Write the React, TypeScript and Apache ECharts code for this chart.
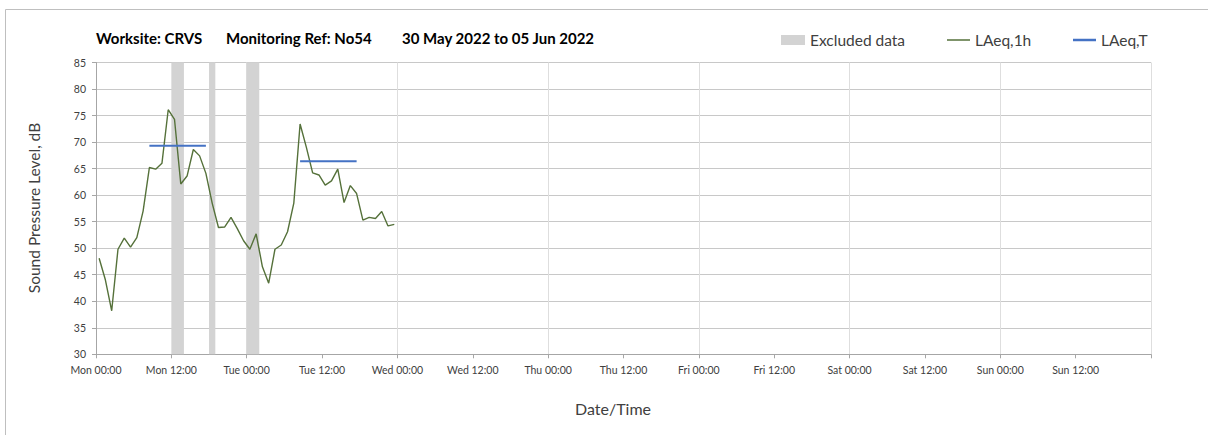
import React, { useEffect, useRef } from "react";
import * as echarts from "echarts";

const dayNames = ["Mon", "Tue", "Wed", "Thu", "Fri", "Sat", "Sun"];

const hourStamps = [
  0.5, 1.5, 2.5, 3.5, 4.5, 5.5, 6.5, 7.5, 8.5, 9.5, 10.5, 11.5,
  12.5, 13.5, 14.5, 15.5, 16.5, 17.5, 18.5, 19.5, 20.5, 21.5, 22.5, 23.5,
  24.5, 25.5, 26.5, 27.5, 28.5, 29.5, 30.5, 31.5, 32.5, 33.5, 34.5, 35.5,
  36.5, 37.5, 38.5, 39.5, 40.5, 41.5, 42.5, 43.5, 44.5, 45.5, 46.5, 47.5,
];

const laeq1h = [
  48.1, 44.0, 38.2, 49.8, 51.9, 50.2, 52.0, 57.0, 65.2, 64.9, 66.0, 76.1,
  74.3, 62.1, 63.6, 68.6, 67.4, 64.1, 58.5, 53.9, 54.0, 55.8, 53.7, 51.4,
  49.8, 52.7, 46.5, 43.4, 49.8, 50.6, 53.1, 58.5, 73.4, 69.0, 64.2, 63.8,
  61.9, 62.7, 64.9, 58.6, 61.8, 60.3, 55.3, 55.8, 55.6, 56.9, 54.2, 54.5,
];

const laeqTStart = [8.5, 32.5];
const laeqTEnd = [17.5, 41.5];
const laeqTValue = [69.3, 66.4];

const excludedStart = [12, 18, 24];
const excludedEnd = [14, 19, 26];

const titleParts = ["Worksite: CRVS", "Monitoring Ref: No54", "30 May 2022 to 05 Jun 2022"];

const FONT = "Lato, 'Open Sans', sans-serif";

export default function App() {
  const ref = useRef<HTMLDivElement>(null);
  useEffect(() => {
    if (!ref.current) return;
    const chart = echarts.init(ref.current, undefined, { renderer: "svg" });
    const lineData = hourStamps.map((h, i) => [h, laeq1h[i]]);
    const tSeries = laeqTStart.map((s, i) => ({
      name: "LAeq,T",
      type: "line",
      xAxisIndex: 0,
      symbol: "none",
      lineStyle: { color: "#4472c4", width: 2 },
      itemStyle: { color: "#4472c4" },
      data: [
        [s, laeqTValue[i]],
        [laeqTEnd[i], laeqTValue[i]],
      ],
      z: 4,
    }));
    const legendText = { fontSize: 15.5, color: "#404040", fontFamily: FONT };
    const option: any = {
      animation: false,
      backgroundColor: "#ffffff",
      textStyle: { fontFamily: FONT },
      grid: { left: 96, right: 57, top: 62.5, bottom: 80.7, containLabel: false },
      legend: [
        {
          data: [{ name: "Excluded data", icon: "rect" }],
          left: 776,
          top: 27,
          itemWidth: 24,
          itemHeight: 10,
          selectedMode: false,
          textStyle: legendText,
        },
        {
          data: [{ name: "LAeq,1h", icon: "rect", itemStyle: { color: "#55713a" } }],
          left: 942,
          top: 27,
          itemWidth: 23,
          itemHeight: 1.5,
          selectedMode: false,
          textStyle: legendText,
        },
        {
          data: [{ name: "LAeq,T", icon: "rect", itemStyle: { color: "#4472c4" } }],
          left: 1068,
          top: 27,
          itemWidth: 23,
          itemHeight: 2.5,
          selectedMode: false,
          textStyle: legendText,
        },
      ],
      xAxis: [
        {
          type: "value",
          min: 0,
          max: 168,
          interval: 12,
          axisLine: { show: true, lineStyle: { color: "#a6a6a6", width: 1 } },
          axisTick: { show: true, length: 4, lineStyle: { color: "#a6a6a6" } },
          axisLabel: {
            margin: 10,
            fontSize: 10.5,
            color: "#404040",
            fontFamily: FONT,
            formatter: (v: number) => {
              if (v >= 168) return "";
              const d = dayNames[Math.floor(v / 24)];
              return d + (v % 24 === 0 ? " 00:00" : " 12:00");
            },
          },
          splitLine: { show: false },
        },
        {
          type: "value",
          min: 0,
          max: 168,
          interval: 24,
          position: "bottom",
          axisLine: { show: false },
          axisTick: { show: false },
          axisLabel: { show: false },
          splitLine: { show: true, lineStyle: { color: "#dedede", width: 1 } },
        },
      ],
      yAxis: {
        type: "value",
        min: 30,
        max: 85,
        interval: 5,
        axisLine: { show: true, lineStyle: { color: "#a6a6a6", width: 1 } },
        axisTick: { show: true, length: 4, lineStyle: { color: "#a6a6a6" } },
        axisLabel: { margin: 10, fontSize: 10.5, color: "#404040", fontFamily: FONT },
        splitLine: { show: true, lineStyle: { color: "#c8c8c8", width: 1 } },
      },
      series: [
        {
          name: "Excluded data",
          type: "line",
          xAxisIndex: 0,
          data: [],
          symbol: "none",
          itemStyle: { color: "#d3d3d3" },
          lineStyle: { color: "#d3d3d3" },
        },
        {
          name: "LAeq,1h",
          type: "line",
          xAxisIndex: 0,
          symbol: "none",
          data: lineData,
          lineStyle: { color: "#55713a", width: 1.4 },
          itemStyle: { color: "#55713a" },
          z: 3,
          markArea: {
            silent: true,
            itemStyle: { color: "#d3d3d3", opacity: 1 },
            data: excludedStart.map((s, i) => [{ xAxis: s }, { xAxis: excludedEnd[i] }]),
            z: 1,
          },
        },
        ...tSeries,
      ],
      graphic: [
        {
          type: "rect",
          silent: true,
          shape: { x: 5.5, y: 9.5, width: 1220, height: 440 },
          style: { fill: "none", stroke: "#bfbfbf", lineWidth: 1 },
        },
        {
          type: "text",
          x: 96,
          y: 38,
          style: {
            text: titleParts[0],
            font: `bold 15px ${FONT}`,
            fill: "#000000",
            verticalAlign: "middle",
          },
        },
        {
          type: "text",
          x: 226,
          y: 38,
          style: {
            text: titleParts[1],
            font: `bold 15px ${FONT}`,
            fill: "#000000",
            verticalAlign: "middle",
          },
        },
        {
          type: "text",
          x: 402,
          y: 38,
          style: {
            text: titleParts[2],
            font: `bold 15px ${FONT}`,
            fill: "#000000",
            verticalAlign: "middle",
          },
        },
        {
          type: "text",
          x: 34,
          y: 208,
          rotation: Math.PI / 2,
          style: {
            text: "Sound Pressure Level, dB",
            font: `15.5px ${FONT}`,
            fill: "#404040",
            align: "center",
            verticalAlign: "middle",
          },
        },
        {
          type: "text",
          x: 613,
          y: 408,
          style: {
            text: "Date/Time",
            font: `16px ${FONT}`,
            fill: "#404040",
            align: "center",
            verticalAlign: "middle",
          },
        },
      ],
    };
    chart.setOption(option);
    return () => chart.dispose();
  }, []);
  return (
    <div
      ref={ref}
      style={{ position: "absolute", left: 0, top: 0, width: 1208, height: 435 }}
    />
  );
}
